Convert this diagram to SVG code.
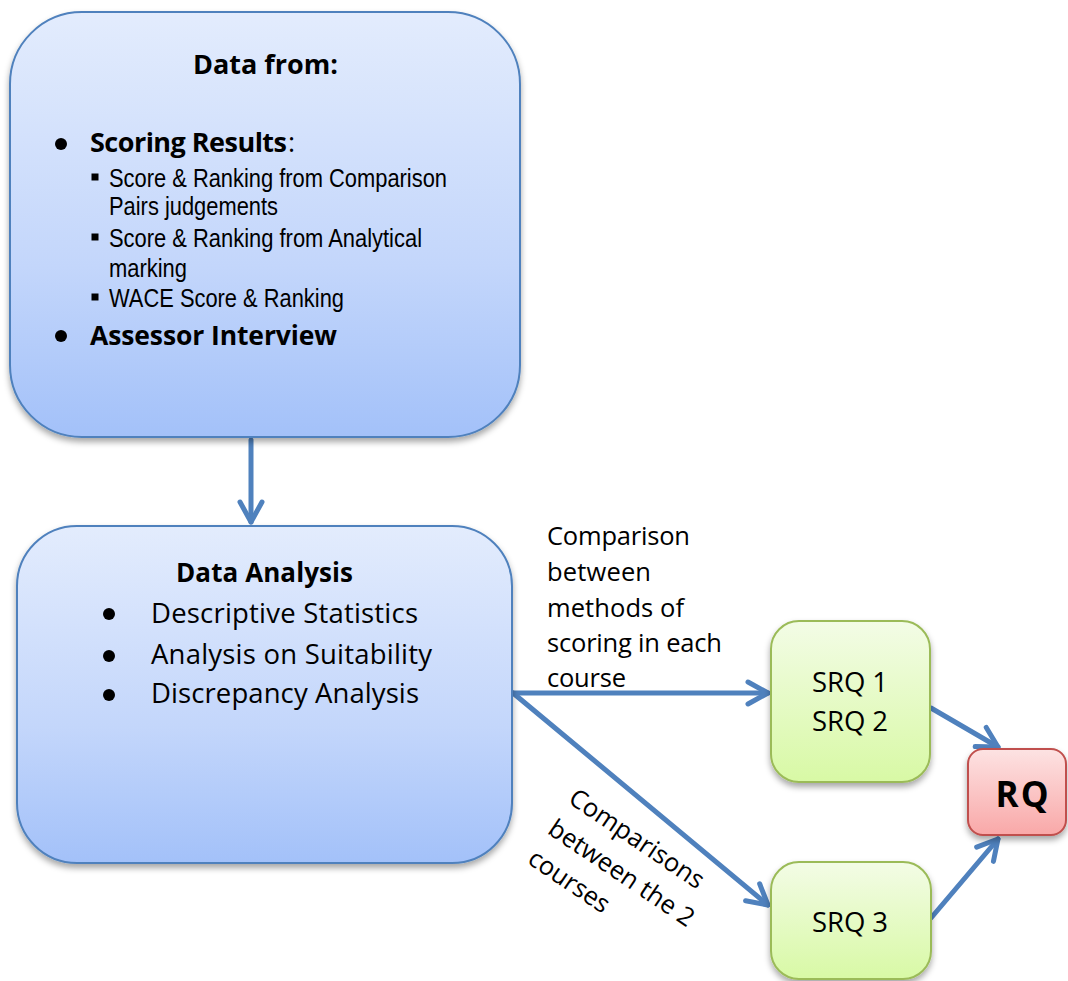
<svg xmlns="http://www.w3.org/2000/svg" width="1068" height="981" viewBox="0 0 1068 981">
<style>
.t{font-family:"Open Sans","Noto Sans",sans-serif;fill:#000}
.b{font-weight:bold}
.n{font-family:"Liberation Sans Narrow","Liberation Sans",Arial,sans-serif;fill:#000}
.conn{stroke:#4f81bd;stroke-width:5;fill:none;stroke-linecap:round}
.blue{fill:url(#gBlue);stroke:#4f81bd;stroke-width:2}
.green{fill:url(#gGreen);stroke:#9bbb59;stroke-width:2}
.red{fill:url(#gRed);stroke:#c0504d;stroke-width:2}
</style>
<defs>
<linearGradient id="gBlue" x1="0" y1="0" x2="0" y2="1">
<stop offset="0" stop-color="#e3ecfd"/>
<stop offset="0.6" stop-color="#c3d6fb"/>
<stop offset="1" stop-color="#a3c1f9"/>
</linearGradient>
<linearGradient id="gGreen" x1="0" y1="0" x2="0" y2="1">
<stop offset="0" stop-color="#f3fce6"/>
<stop offset="1" stop-color="#d8f9a5"/>
</linearGradient>
<linearGradient id="gRed" x1="0" y1="0" x2="0" y2="1">
<stop offset="0" stop-color="#fde3e3"/>
<stop offset="1" stop-color="#f9a8a8"/>
</linearGradient>
<filter id="sh" x="-10%" y="-10%" width="120%" height="125%">
<feDropShadow dx="0" dy="4" stdDeviation="3" flood-color="#000" flood-opacity="0.35"/>
</filter>
<marker id="arr" markerUnits="userSpaceOnUse" viewBox="-26 -14 30 28" markerWidth="30" markerHeight="28" refX="0" refY="0" orient="auto">
<path d="M-20,-11 L0,0 L-20,11" fill="none" stroke="#4f81bd" stroke-width="5" stroke-linecap="round" stroke-linejoin="round"/>
</marker>
</defs>
<rect width="1068" height="981" fill="#fff"/>

<g id="connectors">
<line class="conn" x1="251" y1="440" x2="251" y2="522" marker-end="url(#arr)"/>
<line class="conn" x1="513" y1="693" x2="768" y2="693" marker-end="url(#arr)"/>
<line class="conn" x1="513" y1="693" x2="768" y2="905" marker-end="url(#arr)"/>
<line class="conn" x1="931" y1="708" x2="998" y2="747" marker-end="url(#arr)"/>
<line class="conn" x1="931" y1="918" x2="998" y2="839" marker-end="url(#arr)"/>
</g>

<g id="data-from">
<rect class="blue" x="10" y="12" width="510" height="425" rx="72" ry="72" filter="url(#sh)"/>
<text class="t b" x="193" y="74" font-size="27" textLength="145">Data from:</text>
<circle cx="61" cy="144" r="6"/>
<text class="t" x="90" y="152" font-size="27"><tspan class="b" textLength="197">Scoring Results</tspan><tspan x="288">:</tspan></text>
<rect x="91.5" y="173.5" width="7" height="7"/>
<text class="n" x="109" y="187" font-size="26" textLength="338" lengthAdjust="spacingAndGlyphs">Score &amp; Ranking from Comparison</text>
<text class="n" x="109" y="215" font-size="26" textLength="169" lengthAdjust="spacingAndGlyphs">Pairs judgements</text>
<rect x="91.5" y="233.5" width="7" height="7"/>
<text class="n" x="109" y="247" font-size="26" textLength="313" lengthAdjust="spacingAndGlyphs">Score &amp; Ranking from Analytical</text>
<text class="n" x="109" y="277" font-size="26" textLength="78" lengthAdjust="spacingAndGlyphs">marking</text>
<rect x="91.5" y="293.5" width="7" height="7"/>
<text class="n" x="109" y="307" font-size="26" textLength="235" lengthAdjust="spacingAndGlyphs">WACE Score &amp; Ranking</text>
<circle cx="61" cy="336" r="6"/>
<text class="t b" x="90" y="345" font-size="26.5" textLength="247">Assessor Interview</text>
</g>

<g id="data-analysis">
<rect class="blue" x="17" y="526" width="495" height="337" rx="60" ry="60" filter="url(#sh)"/>
<text class="t b" x="176" y="582" font-size="26" textLength="177">Data Analysis</text>
<circle cx="109" cy="614" r="6"/>
<text class="t" x="151" y="623" font-size="27.5" textLength="267">Descriptive Statistics</text>
<circle cx="109" cy="656" r="6"/>
<text class="t" x="151" y="664" font-size="27.5" textLength="281">Analysis on Suitability</text>
<circle cx="109" cy="695" r="6"/>
<text class="t" x="151" y="703" font-size="27.5" textLength="268">Discrepancy Analysis</text>
</g>

<g id="label-methods">
<text class="t" x="547" y="545" font-size="25.5" textLength="143">Comparison</text>
<text class="t" x="547" y="581" font-size="25.5" textLength="104">between</text>
<text class="t" x="547" y="617" font-size="25.5" textLength="137">methods of</text>
<text class="t" x="547" y="652" font-size="25.5" textLength="175">scoring in each</text>
<text class="t" x="547" y="687" font-size="25.5" textLength="79">course</text>
</g>

<g id="label-courses" transform="translate(567,802) rotate(34)">
<text class="t" x="0" y="0" font-size="25.5">Comparisons</text>
<text class="t" x="0" y="37" font-size="25.5">between the 2</text>
<text class="t" x="0" y="73" font-size="25.5">courses</text>
</g>

<g id="srq12">
<rect class="green" x="771" y="621" width="159" height="161" rx="28" ry="28" filter="url(#sh)"/>
<text class="t" x="850" y="692" font-size="27.5" text-anchor="middle" textLength="76">SRQ 1</text>
<text class="t" x="850" y="731" font-size="27.5" text-anchor="middle" textLength="76">SRQ 2</text>
</g>

<g id="srq3">
<rect class="green" x="771" y="862" width="160" height="117" rx="28" ry="28" filter="url(#sh)"/>
<text class="t" x="850" y="932" font-size="27.5" text-anchor="middle" textLength="76">SRQ 3</text>
</g>

<g id="rq">
<rect class="red" x="968" y="749" width="98" height="86" rx="15" ry="15" filter="url(#sh)"/>
<text class="t b" x="1022" y="807" font-size="35" text-anchor="middle" textLength="53">RQ</text>
</g>
</svg>
